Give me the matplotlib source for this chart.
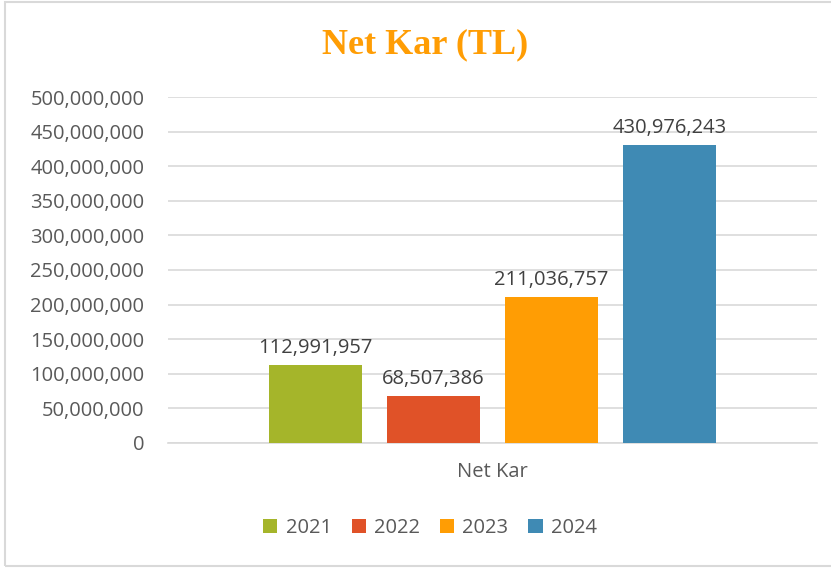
import matplotlib.pyplot as plt
from matplotlib.patches import Rectangle
from matplotlib.ticker import FuncFormatter

# net profit per year (TL)
years = ['2021', '2022', '2023', '2024']
net_kar = [112991957, 68507386, 211036757, 430976243]
colors = ['#A5B52A', '#E05228', '#FF9D04', '#3F8AB4']
category = 'Net Kar'

plt.rcParams['font.family'] = ['Open Sans', 'DejaVu Sans']
text_color = '#595959'
grid_color = '#D9D9D9'

fig = plt.figure(figsize=(8.31, 5.68), dpi=100)
ax = fig.add_axes([168 / 831, 125 / 568, 649 / 831, 346 / 568])

# light frame around the chart area
fig.patches.append(Rectangle((5 / 831, 2.5 / 568), 1.2, 564 / 568,
                             transform=fig.transFigure, fill=False,
                             edgecolor=grid_color, linewidth=1.5))

step = 0.1818
width = 0.1433
bars = []
for i, (yr, val, col) in enumerate(zip(years, net_kar, colors)):
    x = (i - 1.5) * step
    b = ax.bar(x, val, width=width, color=col, label=yr, zorder=3)
    bars.append(b)
    ax.annotate('{:,}'.format(val), xy=(x, val), xytext=(0, 5),
                textcoords='offset points', ha='center', va='bottom',
                fontsize=14.5, color='#404040')

ax.set_xlim(-0.5, 0.5)
ax.set_ylim(0, 500000000)
ax.set_yticks(range(0, 500000001, 50000000))
ax.yaxis.set_major_formatter(FuncFormatter(lambda v, p: '{:,}'.format(int(v))))
ax.set_xticks([0])
ax.set_xticklabels([category])

ax.grid(axis='y', color=grid_color, linewidth=1.2, zorder=0)
for s in ['top', 'right', 'left']:
    ax.spines[s].set_visible(False)
ax.spines['bottom'].set_color(grid_color)
ax.spines['bottom'].set_linewidth(1.2)
ax.tick_params(axis='y', length=0, pad=17, labelsize=14.5, labelcolor=text_color)
ax.tick_params(axis='x', length=0, pad=14, labelsize=14.5, labelcolor=text_color)

fig.text(425 / 831, 1 - 45 / 568, 'Net Kar (TL)', ha='center', va='center',
         family='Liberation Serif', weight='bold', fontsize=26, color='#FF9D04')

fig.legend(handles=bars, labels=years, loc='center',
           bbox_to_anchor=(430 / 831, 1 - 528 / 568), ncol=4, frameon=False,
           fontsize=14.5, labelcolor=text_color, handlelength=0.7,
           handleheight=0.7, handletextpad=0.4, columnspacing=1.0)

fig.savefig('out.png', dpi=100)
